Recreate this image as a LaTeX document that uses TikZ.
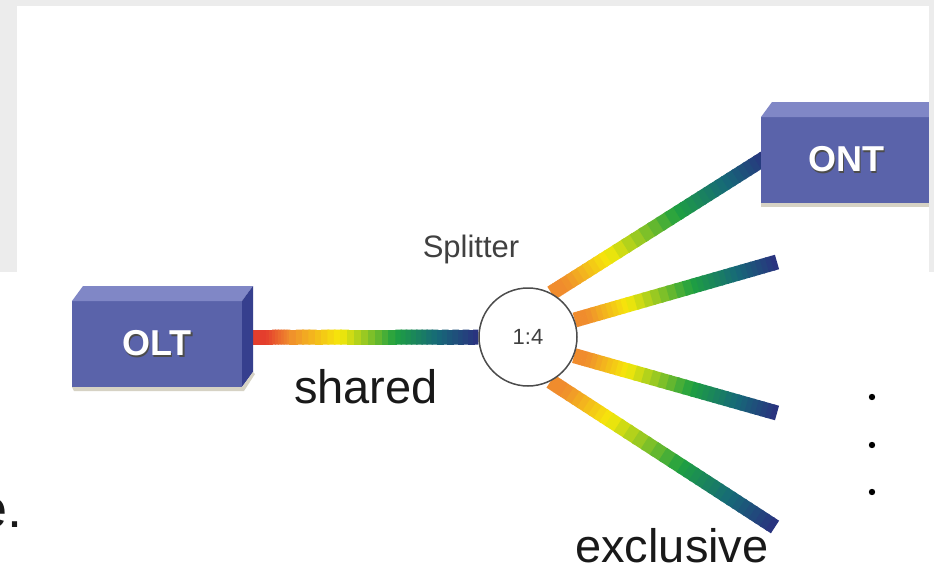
\documentclass[tikz,border=0pt]{standalone}
\usepackage{fontspec}
\setmainfont{Liberation Sans}
\usetikzlibrary{calc}

\definecolor{slidegray}{RGB}{236,236,236}
\definecolor{devfront}{RGB}{90,99,170}
\definecolor{devtop}{RGB}{128,135,198}
\definecolor{devside}{RGB}{54,63,142}
\definecolor{devfoot}{RGB}{214,210,196}
\definecolor{fred}{RGB}{228,62,45}
\definecolor{forange}{RGB}{240,140,45}
\definecolor{fyellow}{RGB}{246,232,10}
\definecolor{fgreen}{RGB}{30,160,65}
\definecolor{fteal}{RGB}{22,105,120}
\definecolor{fnavy}{RGB}{42,48,128}

\pgfdeclarelayer{background}
\pgfdeclarelayer{fibres}
\pgfsetlayers{background,fibres,main}

\newcommand\embossed[1]{\rlap{\kern0.8pt\raisebox{-0.8pt}{\color{black!70}#1}}#1}

% colour runs along a fibre: from/to fraction and colours
\def\sharedstops{0/0.08/fred/fred, 0.08/0.18/fred/forange, 0.18/0.4/forange/fyellow, 0.4/0.64/fyellow/fgreen, 0.64/0.82/fgreen/fteal, 0.82/1/fteal/fnavy}
\def\dropstops{0/0.06/forange/forange, 0.06/0.26/forange/fyellow, 0.26/0.58/fyellow/fgreen, 0.58/0.8/fgreen/fteal, 0.8/1/fteal/fnavy}

\newcommand\fiber[3]{%
  \foreach \ta/\tb/\ca/\cb in #3 {
    \foreach \k in {0,...,7} {
      \pgfmathsetmacro\ua{\ta+(\tb-\ta)*\k/8}
      \pgfmathsetmacro\ub{min(\ta+(\tb-\ta)*(\k+1.3)/8,1)}
      \pgfmathtruncatemacro\mix{100*(\k+0.5)/8}
      \draw[fibre, color={\cb!\mix!\ca}] ($(#1)!\ua!(#2)$) -- ($(#1)!\ub!(#2)$);
    }
  }%
}

\begin{document}
\begin{tikzpicture}[x=0.5pt, y=-0.5pt,
  device/.style={fill=devfront, minimum width=85pt, minimum height=43pt, inner sep=0pt, outer sep=0pt,
    text=white, font=\fontsize{18}{18}\selectfont\bfseries},
  splitnode/.style={circle, draw=black!70, line width=0.75pt, fill=white, minimum size=49pt, inner sep=0pt,
    text=black!75, font=\fontsize{11}{11}\selectfont},
  caption/.style={text=black!75, inner sep=0pt, font=\fontsize{15.5}{15.5}\selectfont},
  remark/.style={text=black!90, inner sep=0pt, font=\fontsize{23.5}{23.5}\selectfont},
  fibre/.style={line width=7.5pt}]

\useasboundingbox (0,0) rectangle (934,568);
\begin{pgfonlayer}{background}
\fill[slidegray] (0,0) rectangle (934,272);
\fill[white] (17,6) rectangle (929,568);
\end{pgfonlayer}

\node[device] (olt) at (157,344) {\embossed{OLT}};
\node[device] (ont) at (846,160) {\embossed{ONT}};
\fill[devtop] (olt.north west) -- ++(11,-15) -- ++(170,0) -- (olt.north east) -- cycle;
\fill[devside] (olt.north east) -- ++(11,-15) -- ++(0,86) -- (olt.south east) -- cycle;
\fill[devfoot] (olt.south west) -- (olt.south east) -- ++(11,-15) -- ++(2,2) -- ++(-11,17) -- ++(-170,0) -- cycle;
\fill[devtop] (ont.north west) -- ++(11,-15) -- ++(170,0) -- (ont.north east) -- cycle;
\fill[devside] (ont.north east) -- ++(11,-15) -- ++(0,86) -- (ont.south east) -- cycle;
\fill[devfoot] (ont.south west) -- (ont.south east) -- ++(0,4) -- ++(-170,0) -- cycle;

\node[splitnode] (split) at (528,337) {1:4};
\node[caption, anchor=base] (splitlbl) at (471,257) {Splitter};

\coordinate (oltport) at ([shift={(6,-7)}]olt.east);
\coordinate (f1) at ([shift={(7,-4)}]ont.west);
\coordinate (f2) at (777,262);
\coordinate (f3) at (777,413);
\coordinate (f4) at (775,527);

\begin{pgfonlayer}{fibres}
\fiber{oltport}{split.west}{\sharedstops}
\fiber{split.62}{f1}{\dropstops}
\fiber{split.20}{f2}{\dropstops}
\fiber{split.-22}{f3}{\dropstops}
\fiber{split.-63}{f4}{\dropstops}
\end{pgfonlayer}

\node[remark, anchor=base] (sharedlbl) at (366,403) {shared};
\node[remark, anchor=base] (exclbl) at (672,562) {exclusive};
\node[remark, anchor=base east, font=\fontsize{27}{27}\selectfont] (tail) at (23,527) {e.};

\foreach \y in {397,445,492}
  \fill (872,\y) circle (1.6pt);

\fill[slidegray] (929,0) rectangle (934,272);
\end{tikzpicture}
\end{document}
